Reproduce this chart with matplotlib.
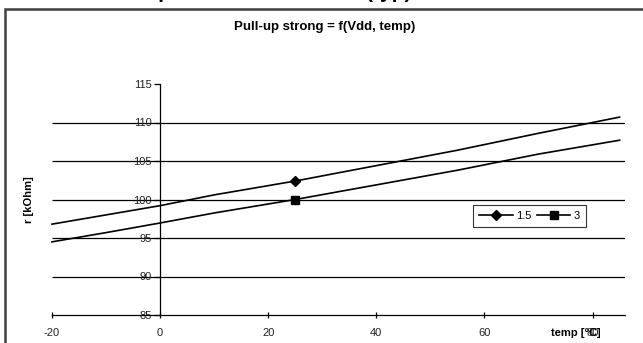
import numpy as np
import matplotlib.pyplot as plt
from matplotlib.patches import Rectangle

plt.rcParams['font.family'] = ['Liberation Sans', 'DejaVu Sans']
plt.rcParams['axes.unicode_minus'] = False

# values
temp = [-20, -10, 0, 10, 25, 40, 55, 70, 85]
r_15 = [96.8, 98.0, 99.2, 100.6, 102.4, 104.4, 106.4, 108.6, 110.7]
r_3 = [94.5, 95.7, 96.95, 98.25, 100.0, 101.9, 103.8, 105.9, 107.7]
series_names = ['1.5', '3']
yticks = [85, 90, 95, 100, 105, 110, 115]
xticks = [-20, 0, 20, 40, 60, 80]
grid_vals = [90, 95, 100, 105, 110]

W, H = 643, 343
fig = plt.figure(figsize=(W / 100, H / 100), dpi=100)

# outer chart frame (cut off at right and bottom)
fig.patches.append(Rectangle((5 / W, -0.2), 1.2, 1.2 - 8.5 / H,
                             transform=fig.transFigure, fill=False,
                             edgecolor='#404040', linewidth=1.8, clip_on=False))

# cropped main title, only descenders visible
fig.text(100 / W, 1 + 2.5 / H, 'Pull-up resistance vs. Vdd (typ)', fontsize=15,
         fontweight='bold', ha='left', va='baseline')

fig.text(325 / W, 1 - 27 / H, 'Pull-up strong = f(Vdd, temp)', fontsize=9.5,
         fontweight='bold', ha='center', va='center')

ax = fig.add_axes([52 / W, (H - 315) / H, 573 / W, 231 / H])
ax.set_xlim(-20, 86)
ax.set_ylim(85, 115)

ax.hlines(grid_vals, -20, 86, colors='black', linewidth=0.9, zorder=1)

ax.plot(temp, r_15, color='black', linewidth=1.2, marker='D', markersize=5,
        markevery=[4], label=series_names[0], zorder=3, clip_on=False)
ax.plot(temp, r_3, color='black', linewidth=1.2, marker='s', markersize=6,
        markevery=[4], label=series_names[1], zorder=3, clip_on=False)

for s in ['top', 'right']:
    ax.spines[s].set_visible(False)
ax.spines['left'].set_position(('data', 0))
ax.spines['left'].set_linewidth(0.9)
ax.spines['bottom'].set_linewidth(0.9)

ax.set_yticks(yticks)
ax.set_xticks(xticks)
ax.tick_params(axis='y', direction='out', length=4, width=0.9, labelsize=8, pad=2)
ax.tick_params(axis='x', direction='inout', length=5, width=0.9, labelsize=8, pad=7)
for lab in ax.get_yticklabels() + ax.get_xticklabels():
    lab.set_color('#222222')

ax.text(-0.04, 0.5, 'r [kOhm]', transform=ax.transAxes, rotation=90,
        fontsize=8, fontweight='bold', ha='center', va='center')
ax.text(0.87, -0.08, 'temp [°C]', transform=ax.transAxes,
        fontsize=8, fontweight='bold', ha='left', va='center')

leg = ax.legend(loc='upper left', bbox_to_anchor=(0.735, 0.476), ncol=2,
                fontsize=8, frameon=True, fancybox=False, borderaxespad=0,
                handlelength=3.0, handletextpad=0.3, columnspacing=0.5,
                borderpad=0.55)
leg.get_frame().set_edgecolor('black')
leg.get_frame().set_linewidth(0.8)

fig.savefig('out.png', dpi=100)
